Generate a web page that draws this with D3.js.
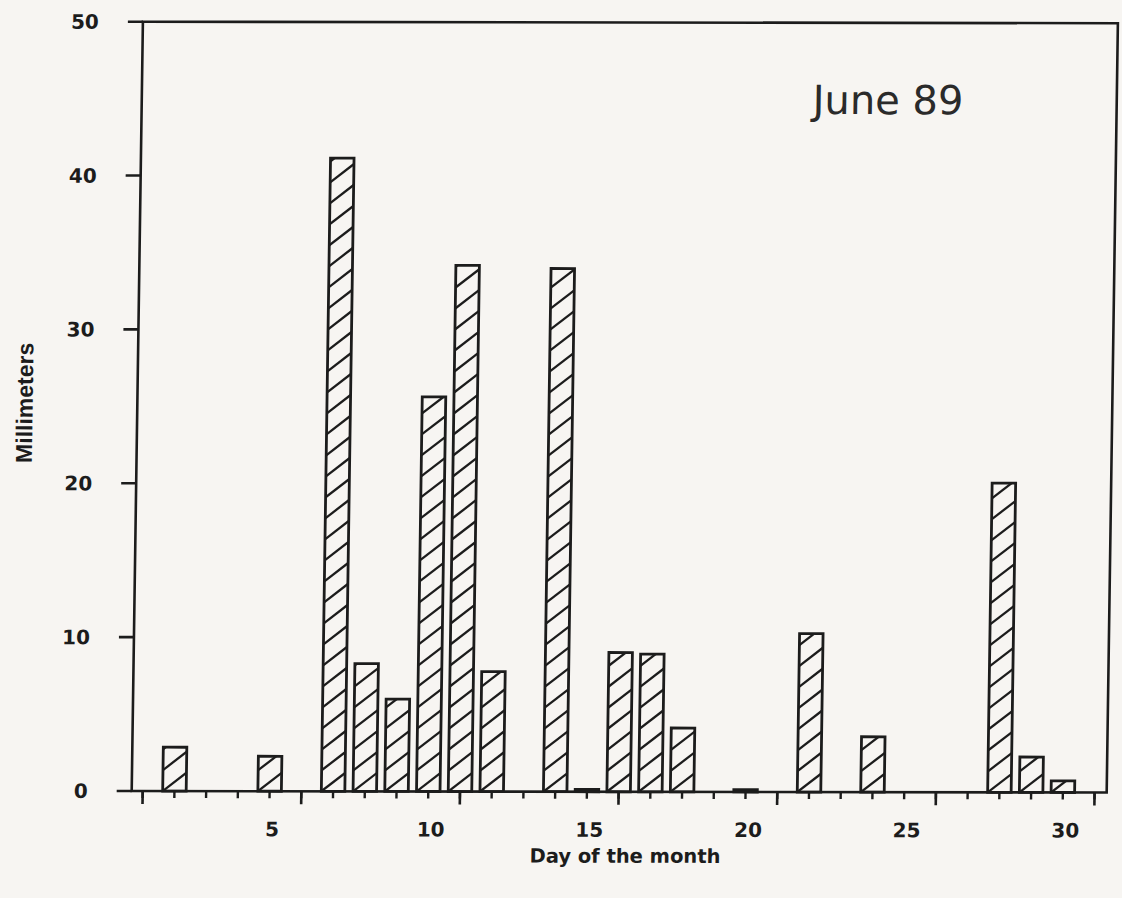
<!DOCTYPE html>
<html>
<head>
<meta charset="utf-8">
<script src="https://cdn.jsdelivr.net/npm/d3@7"></script>
<style>
  html, body { margin: 0; padding: 0; background: #f7f5f2; }
  svg { display: block; }
</style>
</head>
<body>
<svg id="chart" width="1122" height="898"></svg>
<script>
// Daily rainfall, June 1989
const days   = [2, 5, 7, 8, 9, 10, 11, 12, 14, 15, 16, 17, 18, 20, 22, 24, 28, 29, 30];
const rainMm = [2.85, 2.27, 41.15, 8.3, 6.0, 25.65, 34.2, 7.8, 34.0, 0.15, 9.05, 8.95, 4.15, 0.15, 10.3, 3.6, 20.1, 2.3, 0.75];
const yTicks = [0, 10, 20, 30, 40, 50];
const xLabelDays = [5, 10, 15, 20, 25, 30];
const xMajorDays = [1, 6, 11, 16, 21, 26, 31];
const xMinorDays = d3.range(1, 32);

const ink = "#1c1c1c";
const svg = d3.select("#chart");

// plot frame
const frame = { left: 131.7, right: 1106.7, top: 21.7, bottom: 791 };

const x = d3.scaleLinear().domain([1, 31]).range([142.7, 1094.6]);
const y = d3.scaleLinear().domain([0, 50]).range([frame.bottom, frame.top]);

// slight slant of the whole drawing
const g = svg.append("g")
  .attr("transform", `translate(0,${frame.bottom}) skewX(-0.744) translate(0,${-frame.bottom}) rotate(0.09, ${frame.left}, ${frame.bottom})`);

// bars with diagonal hatching
const barW = 23.5;
const defs = svg.append("defs");
const hatchGap = 21, slope = 0.78;

days.forEach((d, i) => {
  const x0 = x(d) - barW / 2;
  const y0 = y(rainMm[i]);
  const h = frame.bottom - y0;
  const id = "clip" + i;
  defs.append("clipPath").attr("id", id)
    .append("rect").attr("x", x0).attr("y", y0).attr("width", barW).attr("height", h);

  const hg = g.append("g").attr("clip-path", `url(#${id})`);
  const n = Math.ceil((h + slope * barW) / hatchGap) + 1;
  const lines = d3.range(0, n).map(k => {
    const yb = frame.bottom - k * hatchGap;
    return { x1: x0, y1: yb, x2: x0 + barW, y2: yb - slope * barW };
  });
  hg.selectAll("line").data(lines).join("line")
    .attr("x1", l => l.x1).attr("y1", l => l.y1)
    .attr("x2", l => l.x2).attr("y2", l => l.y2)
    .attr("stroke", ink).attr("stroke-width", 2.3);

  g.append("rect")
    .attr("x", x0).attr("y", y0)
    .attr("width", barW).attr("height", h)
    .attr("fill", "none").attr("stroke", ink).attr("stroke-width", 2.8);
});

// frame
g.append("rect")
  .attr("x", frame.left).attr("y", frame.top)
  .attr("width", frame.right - frame.left).attr("height", frame.bottom - frame.top)
  .attr("fill", "none").attr("stroke", ink).attr("stroke-width", 2.6);

// y axis ticks and labels
g.selectAll(".ytick").data(yTicks).join("line")
  .attr("x1", frame.left - 15).attr("x2", frame.left)
  .attr("y1", d => y(d)).attr("y2", d => y(d))
  .attr("stroke", ink).attr("stroke-width", 2.6);

g.selectAll(".ylab").data(yTicks).join("text")
  .attr("x", frame.left - 44).attr("y", d => y(d)).attr("dy", "0.36em")
  .attr("text-anchor", "end")
  .attr("font-family", "DejaVu Sans").attr("font-weight", "bold").attr("font-size", 20)
  .attr("fill", ink)
  .text(d => d);

// x axis ticks
g.selectAll(".xminor").data(xMinorDays).join("line")
  .attr("x1", d => x(d)).attr("x2", d => x(d))
  .attr("y1", frame.bottom).attr("y2", frame.bottom + 7)
  .attr("stroke", ink).attr("stroke-width", 2.4);

g.selectAll(".xmajor").data(xMajorDays).join("line")
  .attr("x1", d => x(d)).attr("x2", d => x(d))
  .attr("y1", frame.bottom).attr("y2", frame.bottom + 13)
  .attr("stroke", ink).attr("stroke-width", 2.6);

g.selectAll(".xlab").data(xLabelDays).join("text")
  .attr("x", d => x(d) + 3).attr("y", 836)
  .attr("text-anchor", "middle")
  .attr("font-family", "DejaVu Sans").attr("font-weight", "bold").attr("font-size", 20)
  .attr("fill", ink)
  .text(d => d);

// titles
g.append("text")
  .attr("x", 626).attr("y", 862)
  .attr("text-anchor", "middle")
  .attr("font-family", "DejaVu Sans").attr("font-weight", "bold").attr("font-size", 19.5)
  .attr("fill", ink)
  .text("Day of the month");

g.append("text")
  .attr("transform", "translate(27,403) rotate(-90)")
  .attr("text-anchor", "middle")
  .attr("font-family", "Liberation Sans").attr("font-weight", "bold").attr("font-size", 23)
  .attr("fill", ink)
  .text("Millimeters");

g.append("text")
  .attr("x", 802.7).attr("y", 113)
  .attr("font-family", "DejaVu Sans").attr("font-size", 40)
  .attr("fill", "#2a2a2a")
  .text("June 89");
</script>
</body>
</html>
